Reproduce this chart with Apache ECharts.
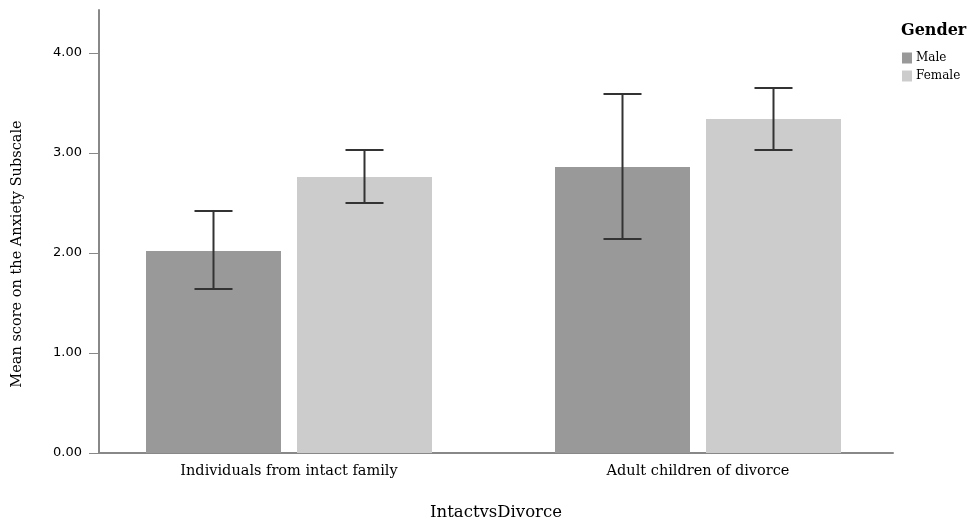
<!DOCTYPE html>
<html>
<head>
<meta charset="utf-8">
<script src="https://cdn.jsdelivr.net/npm/echarts@6/dist/echarts.min.js"></script>
<style>html,body{margin:0;padding:0;background:#fff}#c{width:972px;height:524px}</style>
</head>
<body>
<div id="c"></div>
<script>
var categories = ['Individuals from intact family', 'Adult children of divorce'];
var seriesNames = ['Male', 'Female'];
var maleMean = [2.02, 2.86];
var femaleMean = [2.76, 3.34];
var maleLow = [1.64, 2.14];
var maleHigh = [2.42, 3.59];
var femaleLow = [2.50, 3.03];
var femaleHigh = [3.03, 3.65];
var yTicks = [0, 1, 2, 3, 4];

var BAR_W = 135, BAR_GAP = 16, CAP = 38;
var serif = '"DejaVu Serif", "Liberation Serif", serif';

function errorSeries(name, low, high, sign) {
  return {
    type: 'custom',
    name: name + ' error',
    xAxisIndex: 0, yAxisIndex: 0,
    z: 10,
    silent: true,
    data: low.map(function (l, i) { return [i, l, high[i]]; }),
    renderItem: function (params, api) {
      var c = api.value(0);
      var pLow = api.coord([c, api.value(1)]);
      var pHigh = api.coord([c, api.value(2)]);
      var x = pLow[0] + sign * (BAR_W / 2 + BAR_GAP / 2);
      var st = { stroke: '#333333', lineWidth: 2 };
      return {
        type: 'group',
        children: [
          { type: 'line', shape: { x1: x, y1: pLow[1], x2: x, y2: pHigh[1] }, style: st },
          { type: 'line', shape: { x1: x - CAP / 2, y1: pLow[1], x2: x + CAP / 2, y2: pLow[1] }, style: st },
          { type: 'line', shape: { x1: x - CAP / 2, y1: pHigh[1], x2: x + CAP / 2, y2: pHigh[1] }, style: st }
        ]
      };
    }
  };
}

var chart = echarts.init(document.getElementById('c'), null, { renderer: 'canvas' });
chart.setOption({
  animation: false,
  backgroundColor: '#ffffff',
  title: {
    text: 'Gender', left: 901, top: 23, padding: 0,
    textStyle: { fontFamily: serif, fontWeight: 'bold', fontSize: 16, color: '#000' }
  },
  legend: {
    data: seriesNames,
    orient: 'vertical', left: 902, top: 52, padding: 0,
    itemWidth: 10, itemHeight: 11, itemGap: 6,
    icon: 'rect',
    textStyle: { fontFamily: serif, fontSize: 12, color: '#000', padding: [0, 0, 0, -1] }
  },
  grid: [
    { left: 84.5, right: 69.5, top: 10, bottom: 71, containLabel: false, outerBoundsMode: 'none' },
    { left: 99, right: 79, top: 10, bottom: 71, containLabel: false, outerBoundsMode: 'none' }
  ],
  xAxis: [
    {
      type: 'category', gridIndex: 0, data: categories,
      axisLine: { show: false }, axisTick: { show: false },
      axisLabel: { fontFamily: serif, fontSize: 14.5, color: '#000', margin: 11 }
    },
    {
      type: 'category', gridIndex: 1, data: categories,
      axisLine: { show: true, lineStyle: { color: '#888888', width: 2 } },
      axisTick: { show: false }, axisLabel: { show: false },
      name: 'IntactvsDivorce', nameLocation: 'middle', nameGap: 51,
      nameTextStyle: { fontFamily: serif, fontSize: 16.5, color: '#000' }
    }
  ],
  yAxis: [
    {
      type: 'value', gridIndex: 0, min: 0, max: 4.43, interval: 1,
      show: false
    },
    {
      type: 'value', gridIndex: 1, min: 0, max: 4.43, interval: 1,
      axisLine: { show: true, lineStyle: { color: '#888888', width: 2 } },
      axisTick: { show: true, length: 10, customValues: yTicks, lineStyle: { color: '#888888', width: 1 } },
      splitLine: { show: false },
      axisLabel: {
        fontFamily: '"DejaVu Sans", sans-serif', fontSize: 13, color: '#000', margin: 17,
        customValues: yTicks,
        formatter: function (v) { return Number(v).toFixed(2); }
      }
    }
  ],
  graphic: [
    {
      type: 'text', x: 17, y: 254, rotation: Math.PI / 2,
      style: {
        text: 'Mean score on the Anxiety Subscale', fill: '#000',
        font: '14.5px ' + serif, align: 'center', verticalAlign: 'middle'
      }
    }
  ],
  series: [
    { type: 'bar', name: 'Male', data: maleMean, barWidth: BAR_W, barGap: (BAR_GAP / BAR_W * 100) + '%', itemStyle: { color: '#999999' } },
    { type: 'bar', name: 'Female', data: femaleMean, barWidth: BAR_W, barGap: (BAR_GAP / BAR_W * 100) + '%', itemStyle: { color: '#cccccc' } },
    errorSeries('Male', maleLow, maleHigh, -1),
    errorSeries('Female', femaleLow, femaleHigh, 1)
  ]
});
</script>
</body>
</html>
